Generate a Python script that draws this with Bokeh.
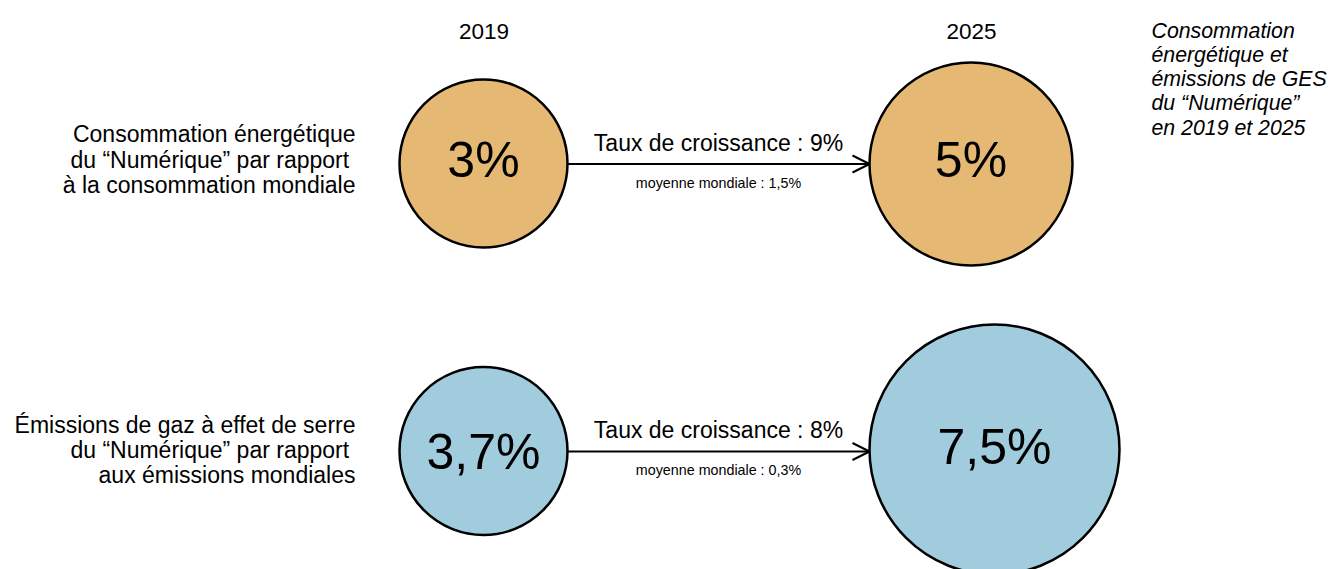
from bokeh.plotting import figure
from bokeh.models import Range1d, Arrow, OpenHead
from bokeh.core.properties import value
from bokeh.embed import file_html
from bokeh.resources import INLINE

# ---------------- data ----------------
years = ["2019", "2025"]
row_labels = [
    ["Consommation énergétique", "du “Numérique” par rapport ", "à la consommation mondiale"],
    ["Émissions de gaz à effet de serre", "du “Numérique” par rapport ", "aux émissions mondiales"],
]
values_2019 = [3, 3.7]
values_2025 = [5, 7.5]
growth_rate = [9, 8]
world_average = [1.5, 0.3]
title_lines = ["Consommation", "énergétique et", "émissions de GES", "du “Numérique”", "en 2019 et 2025"]


def fr(v):
    return f"{v:g}".replace(".", ",") + "%"


# ---------------- layout (pixel space of the picture) ----------------
W, H = 1329, 569
FONT = value("Liberation Sans")
row_y = [163, 450.5]
x_2019 = [483, 483]
x_2025 = [970.5, 994]
y_2025 = [163.5, 449]
r_2019 = [84, 84]
r_2025 = [101.5, 125]
colors = ["#E5B974", "#A0CCDE"]
val_mid_2019 = [159.5, 451]
val_mid_2025 = [159.5, 446]
year_x = [483.5, 971]
year_mid = 30.5
label_right = 355
label_mid = [[133.5, 159, 184.5], [424.5, 449.5, 474.5]]
arrow_mid = 718
taux_dy = -21
avg_dy = 19.2
title_x = 1151
title_mid = [30, 54.3, 78.6, 102.9, 127.2]

p = figure(width=W, height=H, output_backend="svg", toolbar_location=None,
           x_range=Range1d(0, W), y_range=Range1d(H, 0),
           x_axis_type=None, y_axis_type=None, min_border=0,
           min_border_left=0, min_border_right=0, min_border_top=0, min_border_bottom=0)
p.outline_line_color = None
p.xgrid.visible = False
p.ygrid.visible = False
p.background_fill_color = "white"
p.border_fill_color = "white"

common = dict(text_font=FONT, text_baseline="middle", text_color="black")

# year headers
p.text(x=year_x, y=[year_mid] * 2, text=years, text_font_size="22.5px",
       text_align="center", **common)

# circles
p.circle(x=x_2019, y=row_y, radius=r_2019, fill_color=colors, line_color="black", line_width=2.5)
p.circle(x=x_2025, y=y_2025, radius=r_2025, fill_color=colors, line_color="black", line_width=2.5)

# values inside circles
p.text(x=x_2019, y=val_mid_2019, text=[fr(v) for v in values_2019],
       text_font_size="50px", text_align="center", **common)
p.text(x=x_2025, y=val_mid_2025, text=[fr(v) for v in values_2025],
       text_font_size="50px", text_align="center", **common)

# arrows with growth rate labels
for i in range(2):
    xs = x_2019[i] + r_2019[i]
    xe = x_2025[i] - r_2025[i]
    p.add_layout(Arrow(x_start=xs, y_start=row_y[i] + 0.5, x_end=xe, y_end=row_y[i] + 0.5,
                       line_width=2, line_color="black",
                       end=OpenHead(size=17, line_width=2, line_color="black")))
p.text(x=[arrow_mid] * 2, y=[r + taux_dy for r in row_y],
       text=[f"Taux de croissance : {g}%" for g in growth_rate],
       text_font_size="23px", text_align="center", **common)
p.text(x=[arrow_mid] * 2, y=[r + avg_dy for r in row_y],
       text=[f"moyenne mondiale : {fr(a)}" for a in world_average],
       text_font_size="14.3px", text_align="center", **common)

# row labels on the left
lx, ly, lt = [], [], []
for i, lines in enumerate(row_labels):
    for j, t in enumerate(lines):
        lx.append(label_right)
        ly.append(label_mid[i][j])
        lt.append(t)
p.text(x=lx, y=ly, text=lt, text_font_size="23px", text_align="right", **common)

# title on the right (italic)
p.text(x=[title_x] * len(title_lines), y=title_mid, text=title_lines,
       text_font_size="21.3px", text_font_style="italic", text_align="left", **common)

open("out.html", "w").write(file_html(p, INLINE))
